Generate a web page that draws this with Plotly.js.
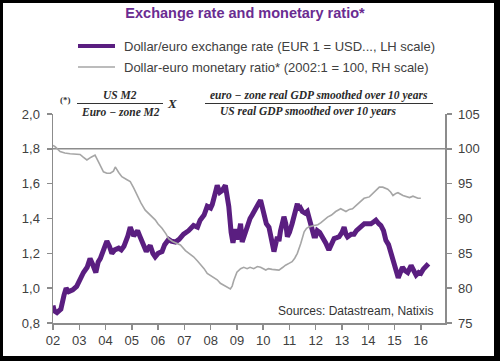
<!DOCTYPE html>
<html><head><meta charset="utf-8">
<script src="https://cdn.plot.ly/plotly-3.0.1.min.js"></script>
<style>
html,body{margin:0;padding:0;background:#000;width:500px;height:361px;overflow:hidden}
#chart{position:absolute;left:3px;top:3px;width:491px;height:353px;background:#fff}
</style>
</head><body><div id="chart"></div>
<script>
// ---- Data ----
const fxDates = [2002.0,2002.05,2002.15,2002.3,2002.42,2002.5,2002.6,2002.75,2002.9,2003.05,2003.16,2003.3,2003.41,2003.5,2003.63,2003.72,2003.8,2003.95,2004.05,2004.15,2004.24,2004.35,2004.5,2004.6,2004.7,2004.85,2004.94,2005.07,2005.15,2005.22,2005.3,2005.38,2005.48,2005.55,2005.62,2005.7,2005.8,2005.89,2006.0,2006.15,2006.25,2006.4,2006.5,2006.66,2006.8,2006.97,2007.16,2007.35,2007.5,2007.6,2007.75,2007.87,2008.0,2008.06,2008.2,2008.25,2008.35,2008.44,2008.56,2008.62,2008.69,2008.78,2008.85,2008.95,2009.0,2009.08,2009.14,2009.2,2009.3,2009.39,2009.5,2009.58,2009.7,2009.84,2009.9,2010.03,2010.12,2010.22,2010.32,2010.41,2010.47,2010.54,2010.6,2010.66,2010.79,2010.86,2010.92,2011.0,2011.1,2011.2,2011.3,2011.35,2011.42,2011.49,2011.6,2011.68,2011.78,2011.87,2011.93,2012.0,2012.06,2012.15,2012.26,2012.38,2012.5,2012.6,2012.7,2012.8,2012.89,2013.0,2013.08,2013.15,2013.21,2013.35,2013.46,2013.55,2013.72,2013.85,2013.97,2014.1,2014.2,2014.29,2014.4,2014.48,2014.58,2014.67,2014.77,2014.86,2014.95,2015.05,2015.14,2015.22,2015.3,2015.4,2015.5,2015.63,2015.72,2015.82,2015.92,2016.0,2016.1,2016.2,2016.29];
const fxValues = [0.90,0.87,0.86,0.88,0.96,1.00,0.98,0.99,1.01,1.06,1.09,1.12,1.17,1.14,1.09,1.15,1.17,1.23,1.27,1.24,1.20,1.22,1.23,1.22,1.24,1.30,1.35,1.30,1.32,1.33,1.30,1.27,1.23,1.21,1.23,1.245,1.20,1.18,1.20,1.21,1.25,1.28,1.27,1.265,1.28,1.31,1.33,1.36,1.35,1.39,1.42,1.47,1.46,1.48,1.56,1.59,1.55,1.56,1.59,1.54,1.47,1.32,1.26,1.34,1.28,1.32,1.37,1.265,1.31,1.37,1.40,1.42,1.46,1.49,1.505,1.43,1.37,1.35,1.27,1.21,1.25,1.295,1.27,1.33,1.41,1.37,1.295,1.32,1.37,1.43,1.485,1.45,1.46,1.44,1.43,1.44,1.38,1.35,1.30,1.30,1.33,1.32,1.295,1.26,1.22,1.25,1.285,1.29,1.295,1.32,1.35,1.31,1.295,1.31,1.31,1.33,1.35,1.37,1.37,1.37,1.38,1.39,1.37,1.36,1.33,1.275,1.25,1.20,1.15,1.09,1.06,1.09,1.12,1.10,1.09,1.13,1.11,1.075,1.09,1.085,1.11,1.13,1.14];

const ratioDates = [2002.0,2002.08,2002.27,2002.45,2002.65,2002.85,2003.03,2003.15,2003.29,2003.45,2003.6,2003.75,2003.92,2004.05,2004.18,2004.3,2004.37,2004.5,2004.62,2004.8,2004.94,2005.07,2005.2,2005.35,2005.51,2005.7,2005.89,2006.0,2006.15,2006.3,2006.4,2006.55,2006.72,2006.85,2007.04,2007.2,2007.35,2007.5,2007.6,2007.75,2007.87,2008.0,2008.12,2008.25,2008.37,2008.55,2008.75,2008.82,2008.88,2009.0,2009.14,2009.26,2009.39,2009.5,2009.64,2009.78,2009.9,2010.1,2010.2,2010.34,2010.5,2010.6,2010.75,2010.85,2011.0,2011.1,2011.2,2011.3,2011.43,2011.56,2011.65,2011.75,2011.94,2012.08,2012.2,2012.32,2012.45,2012.6,2012.76,2012.95,2013.15,2013.28,2013.4,2013.52,2013.65,2013.84,2014.04,2014.23,2014.42,2014.55,2014.65,2014.74,2014.85,2014.94,2015.05,2015.13,2015.32,2015.45,2015.57,2015.7,2015.8,2015.89,2016.0];
const ratioValues = [100.5,100.3,99.6,99.4,99.3,99.3,99.2,98.8,98.4,98.8,99.1,98.0,96.7,96.5,96.5,96.8,97.4,96.6,96.0,95.6,95.3,94.4,93.3,92.2,91.2,90.5,89.8,89.2,88.6,87.8,87.1,86.7,86.4,86.2,85.4,85.0,84.5,83.9,83.5,82.8,82.1,81.8,81.6,81.2,80.7,80.3,79.9,80.3,81.1,82.3,82.8,83.0,82.8,83.0,82.8,83.1,83.0,82.6,82.8,82.7,82.6,82.6,83.0,83.3,83.6,83.8,84.3,85.0,86.4,88.1,88.6,88.8,89.0,89.1,89.4,89.8,90.2,90.5,91.0,91.4,91.0,91.3,91.4,91.8,92.2,92.9,93.1,93.8,94.5,94.5,94.4,94.2,93.8,93.3,93.6,93.7,93.3,93.1,93.0,93.2,93.0,92.9,92.9];

const yearTicks = [2002,2003,2004,2005,2006,2007,2008,2009,2010,2011,2012,2013,2014,2015,2016];
const yearLabels = ["02","03","04","05","06","07","08","09","10","11","12","13","14","15","16"];
const baseIndex = 100;

const seriesNames = ["Dollar/euro exchange rate (EUR 1 = USD..., LH scale)",
                     "Dollar-euro monetary ratio* (2002:1 = 100, RH scale)"];
const titleText = "Exchange rate and monetary ratio*";
const sourceText = "Sources: Datastream, Natixis";

// ---- Layout geometry (div pixels) ----
const W = 491, H = 353, ML = 50, MR = 49, MT = 111, MB = 33;
const PW = W - ML - MR, PH = H - MT - MB;
const OFF = 3; // div offset on the page
const px = x => (x - OFF - ML) / PW;          // page x -> paper x
const py = y => (H - MB - (y - OFF)) / PH;     // page y -> paper y

const axisColor = '#8c8c8c';
const textColor = '#404040';
const purple = '#5a1e80';
const grey = '#a6a6a6';
const fmlFont = {family: 'Liberation Serif', size: 11.5, color: '#2a2a2a', weight: 'bold', style: 'italic'};

const traces = [
  {x: fxDates, y: fxValues, name: seriesNames[0], type: 'scatter', mode: 'lines',
   line: {color: purple, width: 5}, yaxis: 'y', showlegend: false},
  {x: ratioDates, y: ratioValues, name: seriesNames[1], type: 'scatter', mode: 'lines',
   line: {color: grey, width: 1.6}, yaxis: 'y2', showlegend: false}
];

const ann = (t, x, y, xanchor, font) => ({text: t, xref: 'paper', yref: 'paper', x: px(x), y: py(y),
  xanchor: xanchor || 'center', yanchor: 'middle', showarrow: false, font: font || fmlFont});

const legendRows = [46, 67];
const legendShapes = traces.map((t, i) => ({type: 'line', xref: 'paper', yref: 'paper',
  x0: px(78), x1: px(115), y0: py(legendRows[i]), y1: py(legendRows[i]),
  line: {color: t.line.color, width: i === 0 ? 4 : 1.6}}));
const legendTexts = traces.map((t, i) => ann(t.name, 122, legendRows[i], 'left', {size: 13, color: textColor}));

const layout = {
  width: W, height: H,
  margin: {l: ML, r: MR, t: MT, b: MB},
  paper_bgcolor: '#fff', plot_bgcolor: '#fff',
  separators: ', ',
  showlegend: false,
  font: {family: 'Liberation Sans, Arial, sans-serif', size: 13, color: textColor},
  title: {text: '<b>' + titleText + '</b>', font: {size: 14.5, color: '#6a2c91'},
          xref: 'container', yref: 'container', x: (245 - OFF) / W, xanchor: 'center',
          y: 1 - (13 - OFF) / H, yanchor: 'middle'},
  xaxis: {range: [2002, 2016.92], tickvals: yearTicks, ticktext: yearLabels, automargin: false,
          showgrid: false, zeroline: false, showline: true, linecolor: axisColor, linewidth: 1.5,
          ticks: 'outside', ticklen: 5, tickcolor: axisColor, tickwidth: 1.5,
          tickfont: {size: 13, color: textColor}},
  yaxis: {range: [0.8, 2.0], dtick: 0.2, tickformat: '.1f', showgrid: false, zeroline: false, automargin: false,
          showline: true, linecolor: axisColor, linewidth: 1.5, ticks: 'outside', ticklen: 5,
          tickcolor: axisColor, tickwidth: 1.5, ticklabelstandoff: 4, tickfont: {size: 13, color: textColor}},
  yaxis2: {range: [75, 105], dtick: 5, overlaying: 'y', side: 'right', showgrid: false, zeroline: false, automargin: false,
           showline: true, linecolor: axisColor, linewidth: 1.5, ticks: 'outside', ticklen: 5,
           tickcolor: axisColor, tickwidth: 1.5, ticklabelstandoff: 4, tickfont: {size: 13, color: textColor}},
  shapes: [
    {type: 'line', xref: 'paper', x0: 0, x1: 1, yref: 'y2', y0: baseIndex, y1: baseIndex,
     line: {color: axisColor, width: 1.5}, layer: 'below'},
    {type: 'line', xref: 'paper', yref: 'paper', x0: px(77), x1: px(163), y0: py(103.5), y1: py(103.5),
     line: {color: '#333', width: 1}},
    {type: 'line', xref: 'paper', yref: 'paper', x0: px(205), x1: px(433), y0: py(103.5), y1: py(103.5),
     line: {color: '#333', width: 1}}
  ].concat(legendShapes),
  annotations: [
    ann('(*)', 65, 100, 'center', {family: 'Liberation Serif', size: 9, color: '#333', weight: 'bold'}),
    ann('US M2', 120, 95),
    ann('Euro − zone M2', 120, 112),
    ann('X', 172, 103.5, 'center', {family: 'Liberation Serif', size: 13, color: '#2a2a2a', weight: 'bold', style: 'italic'}),
    ann('euro − zone real GDP smoothed over 10 years', 319, 95),
    ann('US real GDP smoothed over 10 years', 308, 112),
    ann(sourceText, 435, 311, 'right', {size: 12, color: '#333'})
  ].concat(legendTexts)
};

Plotly.newPlot('chart', traces, layout, {displayModeBar: false, staticPlot: true});
</script></body></html>
